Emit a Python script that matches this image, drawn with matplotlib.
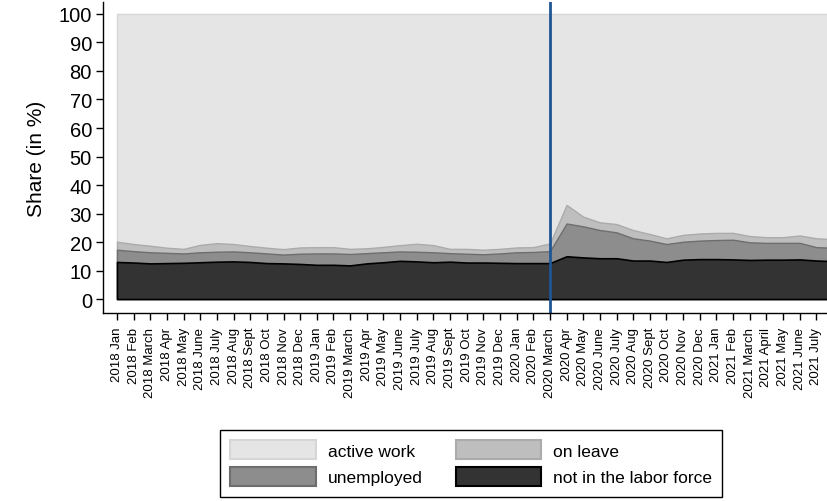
import matplotlib
matplotlib.use('Agg')
import matplotlib.pyplot as plt
from matplotlib.patches import Patch

plt.rcParams['font.family'] = ['Liberation Sans', 'DejaVu Sans']

# monthly labels, 2018 Jan .. 2021 July
months = ['2018 Jan', '2018 Feb', '2018 March', '2018 Apr', '2018 May', '2018 June',
          '2018 July', '2018 Aug', '2018 Sept', '2018 Oct', '2018 Nov', '2018 Dec',
          '2019 Jan', '2019 Feb', '2019 March', '2019 Apr', '2019 May', '2019 June',
          '2019 July', '2019 Aug', '2019 Sept', '2019 Oct', '2019 Nov', '2019 Dec',
          '2020 Jan', '2020 Feb', '2020 March', '2020 Apr', '2020 May', '2020 June',
          '2020 July', '2020 Aug', '2020 Sept', '2020 Oct', '2020 Nov', '2020 Dec',
          '2021 Jan', '2021 Feb', '2021 March', '2021 April', '2021 May', '2021 June',
          '2021 July']

# shares in %, stacked from the bottom (one extra month runs past the right edge)
not_in_lf = [13.0, 12.8, 12.5, 12.6, 12.7, 12.9, 13.1, 13.2, 13.0, 12.6, 12.5, 12.3,
             12.0, 12.0, 11.8, 12.5, 12.9, 13.4, 13.2, 12.9, 13.1, 12.8, 12.8, 12.7,
             12.6, 12.6, 12.6, 15.0, 14.6, 14.3, 14.3, 13.5, 13.5, 13.0, 13.8, 14.0,
             14.0, 13.9, 13.7, 13.8, 13.8, 13.9, 13.5, 13.3]
unemployed = [4.3, 4.0, 3.9, 3.6, 3.3, 3.5, 3.5, 3.5, 3.4, 3.4, 3.1, 3.6,
              4.0, 4.0, 4.0, 3.6, 3.5, 3.3, 3.4, 3.5, 3.0, 3.1, 2.9, 3.3,
              3.8, 3.9, 4.2, 11.5, 10.9, 9.9, 9.1, 7.8, 7.0, 6.3, 6.3, 6.5,
              6.7, 6.9, 6.2, 5.9, 5.9, 5.8, 4.7, 4.7]
on_leave = [2.8, 2.5, 2.3, 1.8, 1.6, 2.6, 3.0, 2.6, 2.2, 2.0, 1.9, 2.2,
            2.2, 2.2, 1.8, 1.7, 1.9, 2.2, 2.8, 2.5, 1.5, 1.7, 1.6, 1.6,
            1.7, 1.7, 2.7, 6.5, 3.4, 2.7, 2.9, 2.9, 2.3, 2.0, 2.4, 2.5,
            2.5, 2.4, 2.2, 2.0, 2.0, 2.6, 3.1, 3.0]

x = list(range(len(not_in_lf)))
top_nilf = not_in_lf
top_unemp = [a + b for a, b in zip(top_nilf, unemployed)]
top_leave = [a + b for a, b in zip(top_unemp, on_leave)]
top_active = [100.0] * len(x)

fig = plt.figure(figsize=(8.28, 5.02), dpi=100)
ax = fig.add_axes([0.1244, 0.3745, 0.8756, 0.6195])

ax.fill_between(x, 0, top_active, facecolor='#e5e5e5', edgecolor='#d6d6d6', lw=1)
ax.fill_between(x, 0, top_leave, facecolor='#bebebe', edgecolor='#ababab', lw=1)
ax.fill_between(x, 0, top_unemp, facecolor='#8d8d8d', edgecolor='#6e6e6e', lw=1)
ax.fill_between(x, 0, top_nilf, facecolor='#333333', edgecolor='black', lw=1.2)

ax.axvline(months.index('2020 March'), color='#1f5593', lw=2)

ax.set_xlim(-0.84, 42.7)
ax.set_ylim(-4.9, 104.2)
ax.set_yticks(range(0, 101, 10))
ax.set_xticks(range(len(months)))
ax.set_xticklabels(months, rotation=90, fontsize=9.5)
ax.tick_params(axis='y', labelsize=14.5, length=5, width=1, pad=3)
ax.tick_params(axis='x', length=5, width=1, pad=5)
ax.set_ylabel('Share (in %)', fontsize=15, labelpad=9)

for s in ['top', 'right']:
    ax.spines[s].set_visible(False)
for s in ['left', 'bottom']:
    ax.spines[s].set_linewidth(1)

handles = [Patch(facecolor='#e5e5e5', edgecolor='#d6d6d6', lw=1.5),
           Patch(facecolor='#8d8d8d', edgecolor='#6e6e6e', lw=1.5),
           Patch(facecolor='#bebebe', edgecolor='#ababab', lw=1.5),
           Patch(facecolor='#333333', edgecolor='black', lw=1.5)]
names = ['active work', 'unemployed', 'on leave', 'not in the labor force']
leg = fig.legend(handles, names, loc='upper center', bbox_to_anchor=(0.569, 0.1414),
                 ncol=2, fontsize=12.5, handlelength=4.9, handleheight=1.3,
                 handletextpad=0.7, columnspacing=1.9, labelspacing=0.45,
                 borderpad=0.6, borderaxespad=0, fancybox=False, framealpha=1)
leg.get_frame().set_edgecolor('black')
leg.get_frame().set_linewidth(1)

fig.savefig('out.png', dpi=100)
